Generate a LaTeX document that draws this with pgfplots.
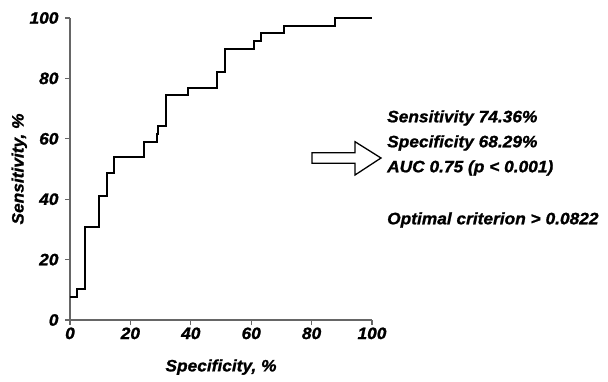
\documentclass[border=0pt]{standalone}
\usepackage{fontspec}
\setmainfont{Liberation Sans}[BoldItalicFeatures={FakeStretch=1.05,FakeBold=1.2}]
\usepackage{pgfplots}
\pgfplotsset{compat=1.18}
\newcommand{\lf}{\fontsize{16.5}{19}\selectfont\bfseries\itshape}
\begin{document}
\begin{tikzpicture}[x=1pt,y=1pt]
\useasboundingbox (-70,-61) rectangle (538,320);
\begin{axis}[
  at={(0,0)}, anchor=south west,
  scale only axis, width=302pt, height=302pt,
  xmin=0, xmax=100, ymin=0, ymax=100,
  axis lines=left,
  axis line style={draw=black!60, line width=1.1pt, -},
  tick style={draw=black!60, line width=1.1pt},
  tick align=outside, major tick length=5pt,
  xtick={0,20,...,100}, ytick={0,20,...,100},
  /pgf/number format/assume math mode=true,
  tick label style={font=\lf},
  xticklabel style={yshift=1pt},
  yticklabel style={xshift=-3pt},
  label style={font=\lf},
  xlabel={Specificity, \%}, ylabel={Sensitivity, \%},
  xlabel style={at={(axis description cs:0.5,-0.156)}, anchor=center},
  ylabel style={at={(axis description cs:-0.168,0.5)}, anchor=center},
  clip=false,
]
\addplot[const plot, black, line width=2pt] coordinates {
(0,7.69) (2.44,10.26) (4.88,30.77) (9.76,41.03) (12.20,48.72) (14.63,53.85)
(24.39,58.97) (28.78,61.54) (29.27,64.10) (31.71,74.36) (39.02,76.92)
(48.78,82.05) (51.22,89.74) (60.98,92.31) (63.41,94.87) (70.73,97.44)
(87.80,100) (100,100)
};
\end{axis}
\draw[black, line width=1.3pt, fill=white, line join=miter]
  (242,156.7) -- (285,156.7) -- (285,145) -- (311,162) -- (285,178.3) -- (285,167.3) -- (242,167.3) -- cycle;
\begin{scope}[every node/.style={anchor=west, inner sep=0pt, font=\lf}]
\node at (317,202) {Sensitivity 74.36\%};
\node at (317,177) {Specificity 68.29\%};
\node at (317,152) {AUC 0.75 (p < 0.001)};
\node at (317,100) {Optimal criterion > 0.0822};
\end{scope}
\end{tikzpicture}
\end{document}
